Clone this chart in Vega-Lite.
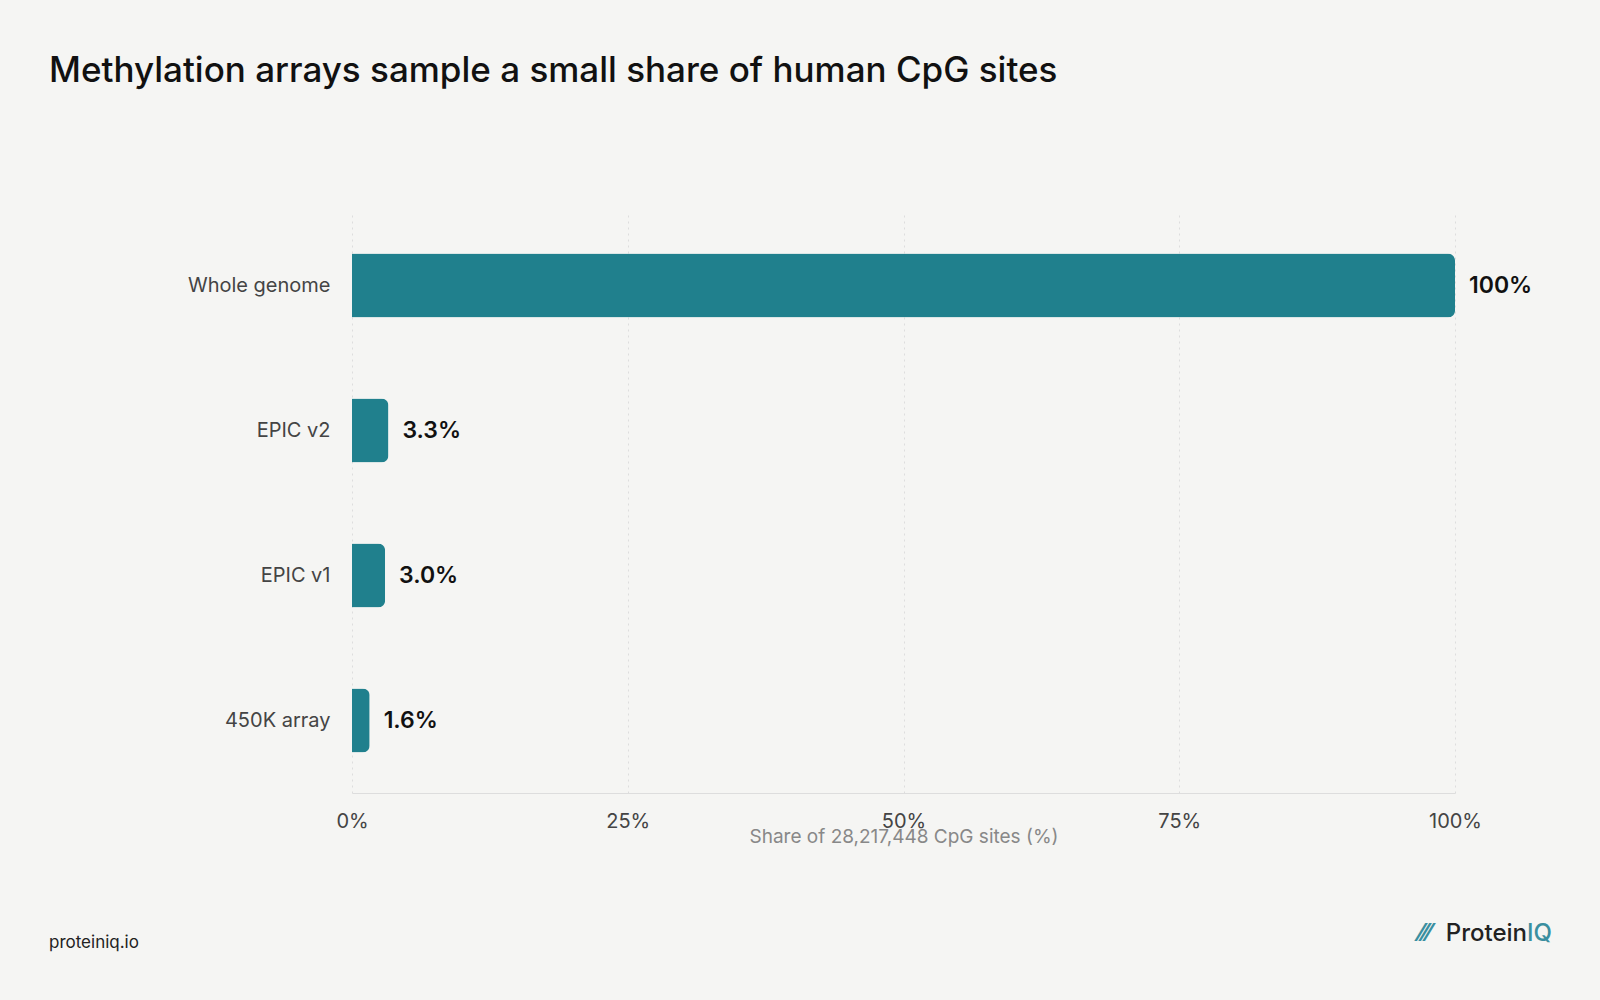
{
  "$schema": "https://vega.github.io/schema/vega-lite/v6.json",
  "width": 1103,
  "height": 580,
  "padding": {"left": 49, "top": 54, "right": 145, "bottom": 70},
  "background": "#f5f5f3",
  "title": {
    "text": "Methylation arrays sample a small share of human CpG sites",
    "anchor": "start",
    "frame": "bounds",
    "font": "Inter",
    "fontSize": 35,
    "fontWeight": 500,
    "color": "#111111",
    "offset": 124
  },
  "data": {
    "values": [
      {"set": "Whole genome", "share": 100, "label": "100%"},
      {"set": "EPIC v2", "share": 3.3, "label": "3.3%"},
      {"set": "EPIC v1", "share": 3.0, "label": "3.0%"},
      {"set": "450K array", "share": 1.6, "label": "1.6%"}
    ]
  },
  "layer": [
    {
      "mark": {"type": "bar", "color": "#20808d", "cornerRadiusEnd": 7},
      "encoding": {
        "y": {
          "field": "set", "type": "nominal", "sort": null, "title": null,
          "scale": {"paddingInner": 0.56, "paddingOuter": 0.28},
          "axis": {"domain": false, "ticks": false, "labelFont": "Inter", "labelFontSize": 20, "labelColor": "#444444", "labelPadding": 22, "minExtent": 303}
        },
        "x": {
          "field": "share", "type": "quantitative", "title": "Share of 28,217,448 CpG sites (%)",
          "scale": {"domain": [0, 100]},
          "axis": {"values": [0, 25, 50, 75, 100], "labelExpr": "datum.value + '%'", "labelAlign": "center", "labelFlush": false, "labelBound": false, "grid": true, "gridDash": [2, 4], "gridColor": "#dddddd", "domainColor": "#dddddd", "ticks": false, "labelFont": "Inter", "labelFontSize": 20, "labelColor": "#444444", "labelPadding": 18, "titleFont": "Inter", "titleFontSize": 19, "titleFontWeight": 400, "titleColor": "#888888", "titlePadding": -4}
        }
      }
    },
    {
      "mark": {"type": "text", "align": "left", "dx": 14, "font": "Inter", "fontSize": 23, "fontWeight": 600, "color": "#111111"},
      "encoding": {
        "y": {"field": "set", "type": "nominal", "sort": null},
        "x": {"field": "share", "type": "quantitative"},
        "text": {"field": "label"}
      }
    },
    {
      "data": {"values": [{"t": "proteiniq.io"}]},
      "mark": {"type": "text", "align": "left", "baseline": "middle", "font": "Inter", "fontSize": 17, "color": "#222222", "x": -303, "y": {"expr": "height + 150"}},
      "encoding": {"text": {"field": "t"}}
    },
    {
      "data": {"values": [{"t": "Protein"}]},
      "mark": {"type": "text", "align": "right", "baseline": "middle", "font": "Inter", "fontSize": 24, "fontWeight": 500, "color": "#222222", "x": {"expr": "width + 72"}, "y": {"expr": "height + 141"}},
      "encoding": {"text": {"field": "t"}}
    },
    {
      "data": {"values": [{"t": "IQ"}]},
      "mark": {"type": "text", "align": "left", "baseline": "middle", "font": "Inter", "fontSize": 24, "fontWeight": 500, "color": "#3a8fa0", "x": {"expr": "width + 72"}, "y": {"expr": "height + 141"}},
      "encoding": {"text": {"field": "t"}}
    },
    {
      "data": {"values": [{"t": "⁄⁄⁄"}]},
      "mark": {"type": "text", "align": "right", "baseline": "middle", "font": "DejaVu Sans", "fontSize": 24, "fontWeight": "bold", "color": "#3a8fa0", "x": {"expr": "width - 24"}, "y": {"expr": "height + 141"}},
      "encoding": {"text": {"field": "t"}}
    }
  ],
  "config": {"view": {"stroke": null}}
}
